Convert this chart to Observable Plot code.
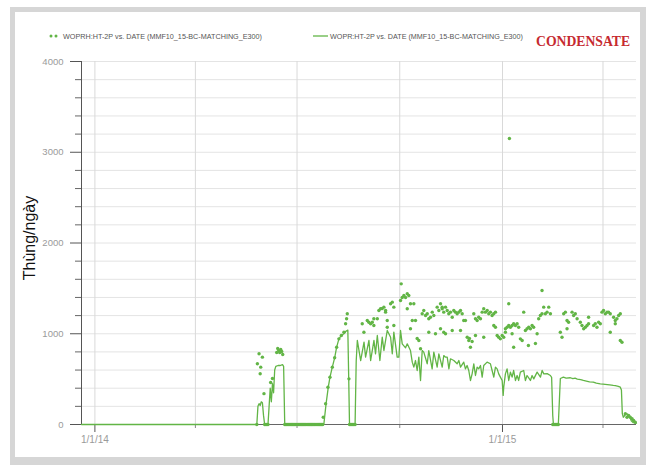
<!DOCTYPE html>
<html><head><meta charset="utf-8">
<script src="https://cdn.jsdelivr.net/npm/d3@7"></script>
<script src="https://cdn.jsdelivr.net/npm/@observablehq/plot@0.6"></script>
<style>
html,body{margin:0;padding:0;background:#fff;}
#wrap{position:relative;width:646px;height:465px;overflow:hidden;background:#fff;font-family:"Liberation Sans",Arial,sans-serif;}
#frame{position:absolute;left:10px;top:7px;width:625px;height:445px;border:5px solid #d6d6d6;border-right-width:6px;border-bottom-width:8px;}
#chart{position:absolute;left:0;top:0;}
#ylab{position:absolute;left:30px;top:238px;transform:translate(-50%,-50%) rotate(-90deg);font-size:16px;color:#111;white-space:nowrap;}
#legend{position:absolute;left:0;top:0;}
</style></head>
<body>
<div id="wrap">
  <div id="frame"></div>
  <div id="chart"></div>
  <div id="ylab">Thùng/ngày</div>
  <svg id="legend" width="646" height="60">
    <circle cx="51" cy="36" r="1.5" fill="#62b546"/>
    <circle cx="56" cy="36" r="1.5" fill="#62b546"/>
    <text x="63" y="38.5" font-size="7" fill="#555" textLength="199" lengthAdjust="spacingAndGlyphs" font-family="Liberation Sans, Arial, sans-serif">WOPRH:HT-2P  vs.  DATE (MMF10_15-BC-MATCHING_E300)</text>
    <line x1="313" y1="36" x2="328" y2="36" stroke="#62b546" stroke-width="1.3"/>
    <text x="330" y="38.5" font-size="7" fill="#555" textLength="193" lengthAdjust="spacingAndGlyphs" font-family="Liberation Sans, Arial, sans-serif">WOPR:HT-2P  vs.  DATE (MMF10_15-BC-MATCHING_E300)</text>
    <text x="536" y="46" font-size="14" font-weight="bold" fill="#c62a2f" textLength="94" lengthAdjust="spacingAndGlyphs" font-family="Liberation Serif, Times New Roman, serif">CONDENSATE</text>
  </svg>
</div>
<script>
// days since 2014-01-01 and values (Thùng/ngày)
const simDays = [-12,145,146,147,148,149,150,151,152,155,156,157,158,159,160,161,162,164,166,168,169,170,204,
  205,207,209,210.5,212.6,214.7,216.5,218.5,220.7,223,225,226.5,227.3,228,233,234,
  235,238,241,242.4,245.4,246.9,249.9,251.3,252.9,255.2,257.3,258.8,261.8,264.8,266.3,267.7,270.7,272.2,273.7,275.2,278.2,279.7,282.6,284.2,285.6,287.1,288.6,290.1,291.6,293.1,294.5,297.6,299,302,303.5,306.5,308,311,312.4,
  314,315.5,317,318.4,321.4,324.4,325.9,327.4,330.3,331.8,333.3,334.8,336.3,337.8,339.3,340.8,342.3,343.7,345.3,346.8,348.2,351.2,354.2,355.7,357.2,358.7,360.2,361.6,363.1,364.7,365.6,366.1,367.6,369.1,370.6,372.1,373.6,375,376.6,378.1,379.5,381,384,385.5,387,390,391.5,393,396,399,400.5,402,405,407.9,409,410,410.6,415,416.8,
  419.5,422,425.8,428,430,432,435,437.4,441,443,446.3,449,452.6,455,458.9,461,464.2,466,468.7,470.5,471.5,472.3,473.2,475,476.5,477.9,479.4,480.3,482.1,485];
const simValues = [0,0,200,230,210,250,240,100,0,0,200,400,250,450,350,600,640,650,650,660,640,0,0,
  0,228,411,521,632,735,852,944,981,1000,1030,1040,500,0,0,700,
  926,705,907,742,926,705,926,779,981,705,962,815,1036,962,779,1018,742,742,1036,889,845,889,815,687,632,705,595,742,485,815,797,669,815,613,797,632,779,632,760,
  742,742,613,724,705,669,705,632,687,613,650,595,485,558,669,540,632,613,650,522,650,687,669,595,522,632,613,558,522,485,320,411,558,613,485,577,522,595,485,540,485,577,595,485,540,485,540,503,577,522,595,558,560,540,520,100,0,0,507,
  522,510,515,505,510,500,495,485,475,470,467,455,448,445,440,437,430,428,420,411,380,120,80,110,120,100,70,40,20,15];

const histDays = [145,145.5,147,148,148.5,150,151.4,152,153,154,155,157.4,159,162.8,163.7,164.6,165.5,166.4,167.3,168.2,
  170,171,172,173,174,175,176,177,178,179,180,181,182,183,184,185,186,187,188,189,190,191,192,193,194,195,196,197,198,199,200,201,202,203,204,
  204.5,206.6,208.7,210.5,212.6,214.7,216.5,218.5,220.7,223,224.5,225.4,226,227.5,228,229,230,231,232,233,
  239.4,240.9,243.9,245.3,246.9,248.4,249.8,249.8,252.9,254.3,255.8,
  257.3,258.8,260.3,260.3,261.8,261.8,264.8,266.3,267.7,267.7,273.7,274.3,275.2,276.7,278.2,279.7,281.1,279.7,282.6,282.6,284.2,285.6,287.1,288.6,290.1,291.6,
  293.1,294.5,296.1,297.6,299,300.5,302.1,303.5,299,305,306.5,308,309.5,311,312.4,309.5,314,311,314,315.5,316.9,318.4,320,321.4,322.9,324.4,325.8,327.4,328.9,330.3,331.8,312.4,320,327.4,
  333.4,334.8,336.3,335.4,337.8,339.3,340.8,342.3,343.7,345.3,340.8,348.2,346.8,348.2,349.7,351.3,352.7,354.2,355.7,357.2,358.7,357.2,358.7,
  360.2,361.6,363.1,364.7,366.1,367.6,369.1,370.6,370.6,371.2,372.1,373.6,375,376.6,378.1,379.5,375,367.6,373.6,381,382.6,
  384,385.5,387,388.5,390,391.5,392.9,394.5,388.2,396,397.4,398.9,400.4,400.4,401.9,403.4,404.9,406.4,407.9,
  410,411,412,413,414,415,
  416.8,418.3,419.8,421.3,422.8,422.8,424.2,427.3,428.7,430.2,431.8,434.7,436.2,437.7,439.2,440.7,442.1,442.1,446.6,448.1,449.6,451.1,452.6,
  454.1,455.5,457.1,458.6,460,461.5,461.5,464.5,466,466,467.5,469,470.5,470.5,472,475,476.5,477.9,479.4,481,482.4,483.9];
const histValues = [0,669,779,560,632,742,340,0,0,0,0,463,507,793,837,815,793,826,804,771,
  0,0,0,0,0,0,0,0,0,0,0,0,0,0,0,0,0,0,0,0,0,0,0,0,0,0,0,0,0,0,0,0,0,0,0,
  80,228,411,521,632,735,852,944,981,1017,1110,1165,1220,503,0,0,0,0,0,0,
  1110,1017,1146,1127,1110,1127,1165,1091,1165,1256,1275,
  1278,1293,1238,1256,1072,1146,1330,1348,1293,1091,1366,1550,1400,1422,1400,1440,1422,1275,1055,1330,1146,1330,1146,948,926,834,
  1220,1256,1201,1220,1165,1182,1238,1201,1017,1000,1293,1256,1330,1275,1238,1055,1000,1293,1293,1256,1220,1238,1182,1256,1238,1220,1238,1256,1220,1146,1146,1017,1036,1036,
  962,926,852,948,915,1220,1165,1146,1182,1165,981,962,1238,1275,1238,1256,1220,1238,1201,1220,1238,1091,1072,
  981,962,944,981,962,1055,1072,1091,1330,3152,1072,1091,1110,1091,1110,1072,852,1017,1000,944,926,
  1238,1036,1055,1072,1055,1091,1072,893,871,1000,1165,1201,1220,1477,1293,1220,1238,1293,1220,
  0,0,0,0,0,0,
  1017,962,1220,1238,1146,1055,1127,1238,1201,1220,1165,1127,1091,1055,1072,1091,1110,1182,1091,1110,1072,1127,1110,
  1238,1256,1220,1238,1238,1220,1017,1182,1146,1110,1165,1201,1220,926,907,118,80,99,80,63,44,25];

const xDomain = ["2013-12-20", "2015-05-01"];
const xMajorTicks = ["2014-01-01", "2015-01-01"];
const xMajorLabels = ["1/1/14", "1/1/15"];
const xQuarterTicks = ["2014-01-01", "2014-04-01", "2014-07-01", "2014-10-01", "2015-01-01", "2015-04-01"];
const xMinorTicks = ["2014-04-01", "2014-07-01", "2014-10-01", "2015-04-01"];
const yMajorTicks = [0, 1000, 2000, 3000, 4000];
const yMinorTicks = [200, 400, 600, 800, 1200, 1400, 1600, 1800, 2200, 2400, 2600, 2800, 3200, 3400, 3600, 3800];

const origin = Date.UTC(2014, 0, 1);
const toDate = d => new Date(origin + d * 864e5);
const parse = s => new Date(s + "T00:00:00Z");
const sim = simDays.map((d, i) => ({date: toDate(d), value: simValues[i]}));
const hist = histDays.map((d, i) => ({date: toDate(d), value: histValues[i]}));
const green = "#62b546";
const labelMap = new Map(xMajorTicks.map((s, i) => [+parse(s), xMajorLabels[i]]));

const chart = Plot.plot({
  width: 646, height: 465,
  marginLeft: 81, marginRight: 10, marginTop: 61, marginBottom: 41,
  style: {background: "transparent", fontFamily: "Liberation Sans, Arial, sans-serif"},
  x: {type: "utc", domain: xDomain.map(parse)},
  y: {domain: [0, 4000]},
  marks: [
    Plot.gridY([...yMinorTicks, ...yMajorTicks], {stroke: "#e4e4e4", strokeOpacity: 1}),
    Plot.gridX(xQuarterTicks.map(parse), {stroke: "#d9d9d9", strokeOpacity: 1}),
    Plot.axisY(yMajorTicks, {tickSize: 11, tickPadding: 7, fontSize: 9.5, fill: "#9a9a9a", stroke: "#555", label: null, tickFormat: d => String(d)}),
    Plot.axisY(yMinorTicks, {tickSize: 6, stroke: "#666", label: null, tickFormat: () => ""}),
    Plot.axisX(xMajorTicks.map(parse), {tickSize: 8, tickPadding: 3, fontSize: 10, fill: "#9a9a9a", stroke: "#555", label: null, tickFormat: d => labelMap.get(+d)}),
    Plot.axisX(xMinorTicks.map(parse), {tickSize: 4, stroke: "#888", label: null, tickFormat: () => ""}),
    Plot.ruleX([parse(xDomain[0])], {stroke: "#555"}),
    Plot.ruleY([0], {stroke: "#666"}),
    Plot.line(sim, {x: "date", y: "value", stroke: green, strokeWidth: 1.3}),
    Plot.dot(hist, {x: "date", y: "value", r: 1.7, fill: green, stroke: "none"})
  ]
});
document.getElementById("chart").appendChild(chart);
</script>
</body></html>
